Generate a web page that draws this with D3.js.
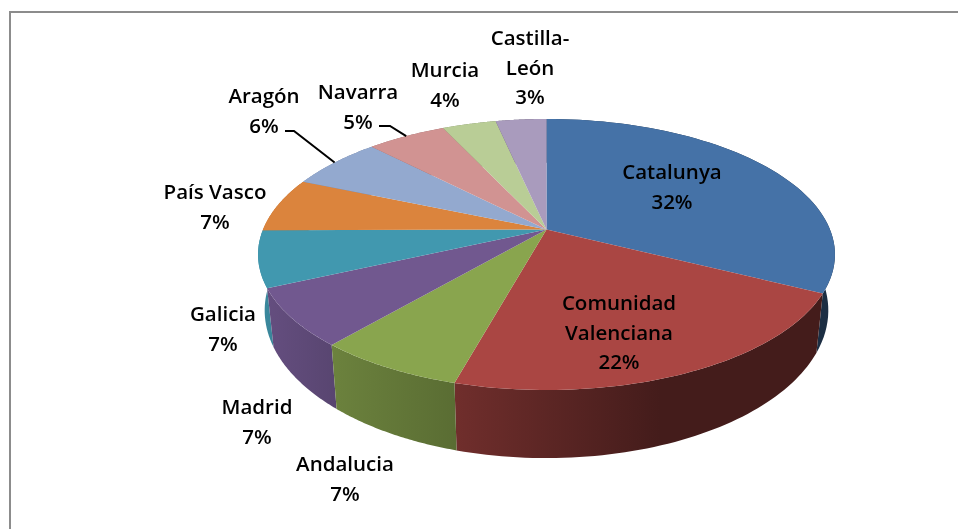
<!DOCTYPE html>
<html>
<head>
<meta charset="utf-8">
<script src="https://cdn.jsdelivr.net/npm/d3@7"></script>
<style>
  html, body { margin: 0; padding: 0; background: #fff; overflow: hidden; }
  svg { display: block; filter: blur(0.45px); }
</style>
</head>
<body>
<svg id="chart" width="958" height="529"></svg>
<script>
const regions = ["Catalunya", "Comunidad Valenciana", "Andalucia", "Madrid", "Galicia", "País Vasco", "Aragón", "Navarra", "Murcia", "Castilla-León"];
const shares = [32.4, 21.9, 7.0, 6.9, 6.7, 6.5, 6.3, 5.3, 3.6, 3.4];
const colors = ["#4572A7", "#AA4643", "#89A54E", "#71588F", "#4198AF", "#DB843D", "#93A9CF", "#D19392", "#B9CD96", "#A99BBD"];
const labelLines = [["Catalunya"], ["Comunidad", "Valenciana"], ["Andalucia"], ["Madrid"], ["Galicia"], ["País Vasco"], ["Aragón"], ["Navarra"], ["Murcia"], ["Castilla-", "León"]];
const labelAnchors = [[672, 172], [619, 303], [345, 464], [257, 407], [223, 314], [215, 192], [264, 96], [358, 92], [445, 70], [530, 38]];
const leaderStarts = { "Aragón": [285, 131, 294], "Navarra": [379, 126, 390] };

const font_family = "'Open Sans', sans-serif";
const font_size = 20.5;
const line_height = 29.5;

const svg = d3.select("#chart");

// Frame, only the top and left edges are in the crop
svg.append("path")
    .attr("d", "M958,12 H10 V529")
    .attr("fill", "none")
    .attr("stroke", "#8c8c8c")
    .attr("stroke-width", 2);

// Tilted disc: perspective map of the unit circle
const cx = 546.5, cy = 229.5, bx = 283.5, by = 130.9, k = 0.1845;
const rim = a => {
    const u = Math.sin(a), v = -Math.cos(a), w = 1 - k * v;
    return [cx + bx * u / w, cy + by * v / w];
};
// Lower rim of the wall
const low = p => [cx + 0.977 * (p[0] - cx), 33 + 1.09 * p[1]];

const pie = d3.pie().sort(null).value(d => d)(shares);
const arcPoints = d => d3.range(0, 61).map(i => rim(d.startAngle + (d.endAngle - d.startAngle) * i / 60));
const line = d3.line();

// Wall shading across the pie
const shade = d3.scaleLinear()
    .domain([258, 337, 455, 660, 835])
    .range([0.9, 0.78, 0.66, 0.4, 0.4]);

const defs = svg.append("defs");
colors.forEach((c, i) => {
    const grad = defs.append("linearGradient")
        .attr("id", `wall${i}`)
        .attr("gradientUnits", "userSpaceOnUse")
        .attr("x1", 258).attr("x2", 835).attr("y1", 0).attr("y2", 0);
    shade.domain().forEach(x => {
        grad.append("stop")
            .attr("offset", (x - 258) / (835 - 258))
            .attr("stop-color", d3.rgb(c).darker(-Math.log(shade(x)) / Math.log(1 / 0.7)).formatHex());
    });
});

// Walls, far ones first
const walls = pie.map((d, i) => ({ i, pts: arcPoints(d) }))
    .sort((a, b) => d3.mean(a.pts, p => p[1]) - d3.mean(b.pts, p => p[1]));

svg.append("g").selectAll("path")
    .data(walls)
    .enter()
    .append("path")
    .attr("d", d => line(d.pts.concat(d.pts.map(low).reverse())) + "Z")
    .attr("fill", d => `url(#wall${d.i})`);

// Top face
svg.append("g").selectAll("path")
    .data(pie)
    .enter()
    .append("path")
    .attr("d", d => line([[cx, cy]].concat(arcPoints(d))) + "Z")
    .attr("fill", (d, i) => colors[i]);

// Leader lines
regions.forEach((name, i) => {
    if (!leaderStarts[name]) return;
    const [x0, y0, x1] = leaderStarts[name];
    const end = rim((pie[i].startAngle + pie[i].endAngle) / 2);
    svg.append("path")
        .attr("d", line([[x0, y0], [x1, y0], end]))
        .attr("fill", "none")
        .attr("stroke", "#000")
        .attr("stroke-width", 2);
});

// Labels
labelLines.forEach((lines, i) => {
    const text = svg.append("text")
        .attr("text-anchor", "middle")
        .attr("fill", "#000")
        .attr("font-family", font_family)
        .attr("font-size", font_size)
        .attr("font-weight", 600);
    lines.concat(`${Math.round(shares[i])}%`).forEach((s, j) => {
        text.append("tspan")
            .attr("x", labelAnchors[i][0])
            .attr("y", labelAnchors[i][1] + j * line_height + 7)
            .text(s);
    });
});
</script>
</body>
</html>
